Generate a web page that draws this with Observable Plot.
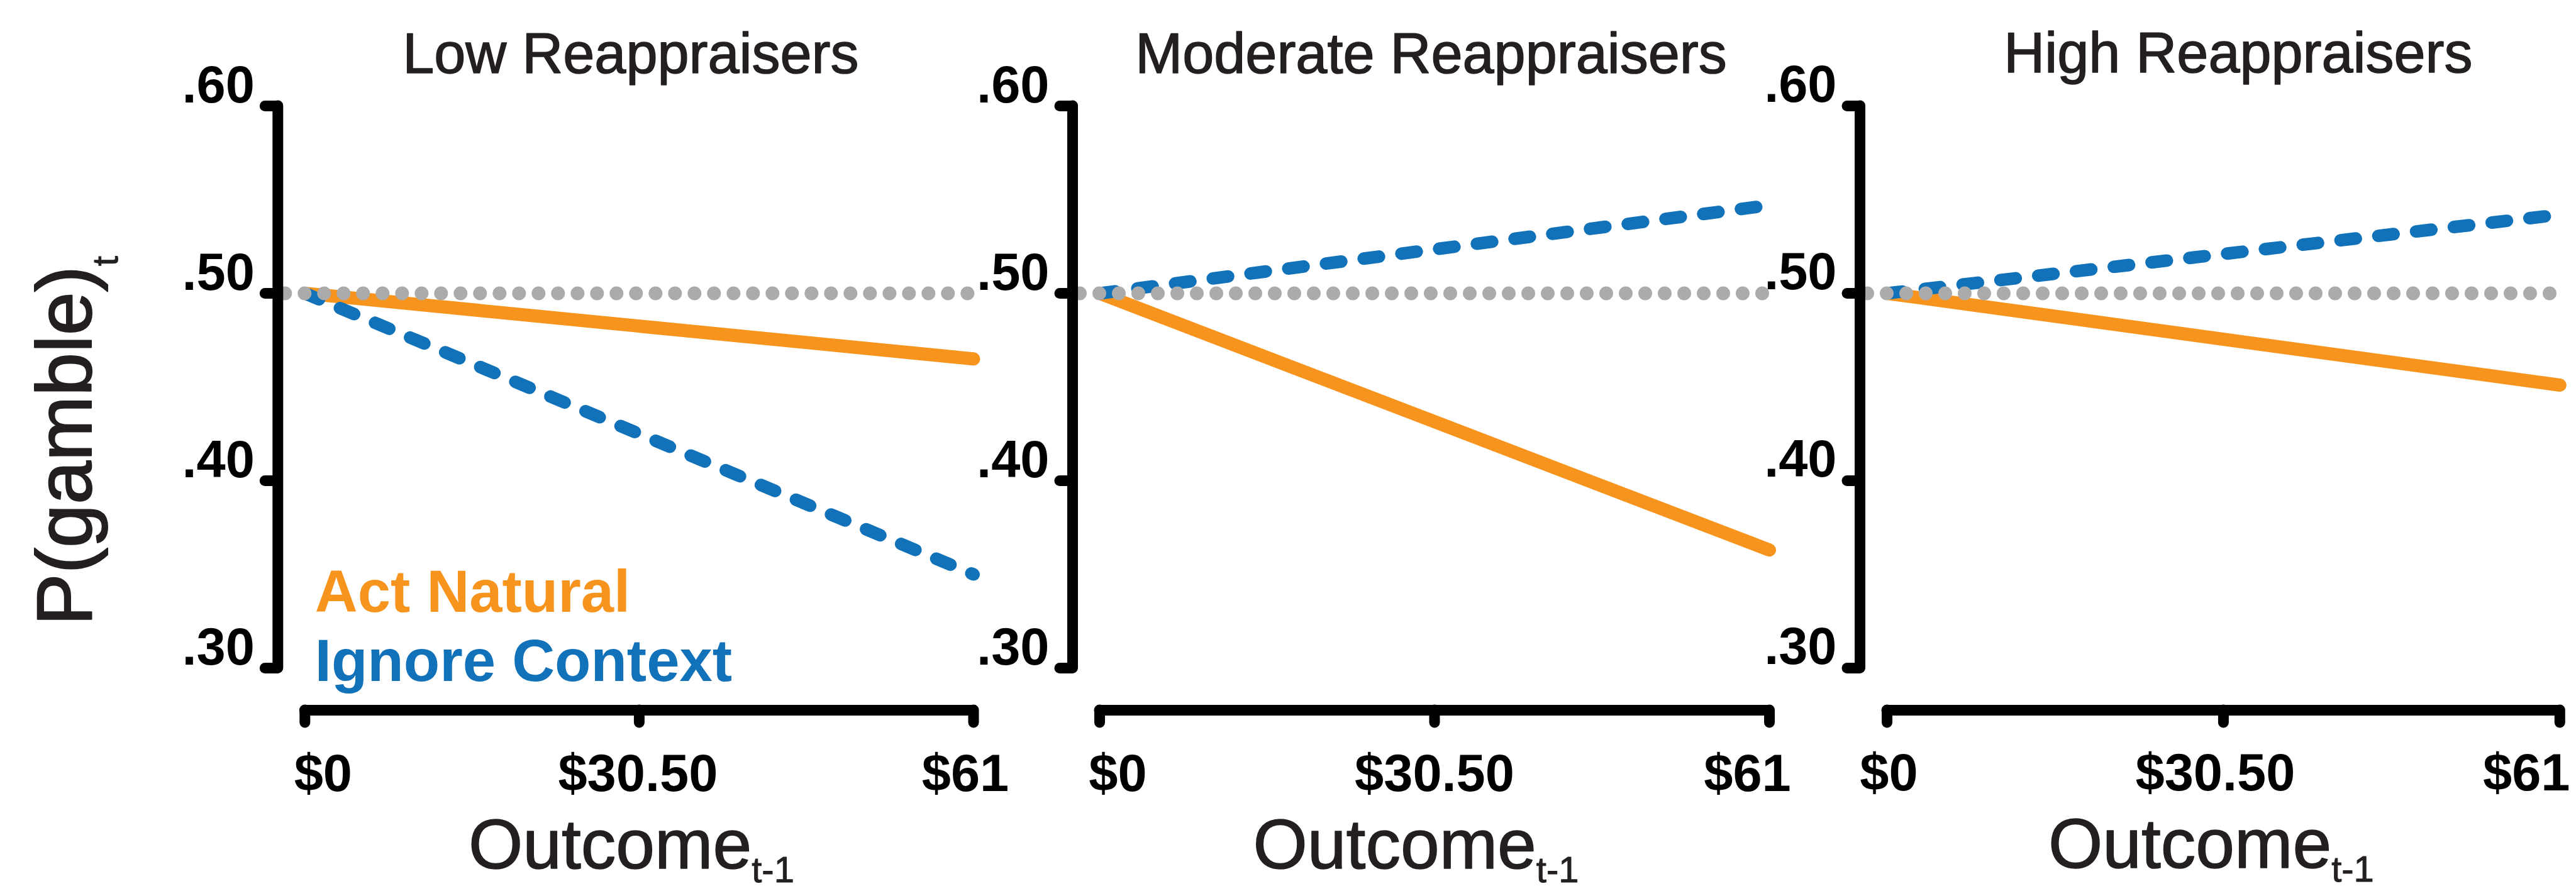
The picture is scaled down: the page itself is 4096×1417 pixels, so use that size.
<!DOCTYPE html>
<html>
<head>
<meta charset="utf-8">
<script src="https://cdn.jsdelivr.net/npm/d3@7"></script>
<script src="https://cdn.jsdelivr.net/npm/@observablehq/plot@0.6"></script>
<style>
  html, body { margin: 0; padding: 0; background: #fff; }
  #chart { position: relative; width: 4096px; height: 1417px; overflow: hidden; background: #fff; }
  #chart svg { position: absolute; top: 0; }
</style>
</head>
<body>
<div id="chart"></div>
<script>
// ---------------- data ----------------
const panelTitles = ["Low Reappraisers", "Moderate Reappraisers", "High Reappraisers"];
const conditions = ["Act Natural", "Ignore Context"];
const outcomeEnds = [0, 61];
const actNatural = [[0.500, 0.465], [0.500, 0.363], [0.500, 0.451]];
const ignoreContext = [[0.500, 0.350], [0.500, 0.547], [0.500, 0.542]];
const chanceLevel = 0.50;
const xTicks = [0, 30.5, 61];
const xTickLabels = ["$0", "$30.50", "$61"];
const yTicks = [0.30, 0.40, 0.50, 0.60];
const yTickLabels = [".30", ".40", ".50", ".60"];
const xLabel = "Outcome", xLabelSub = "t-1";
const yLabel = "P(gamble)", yLabelSub = "t";

// ---------------- style / layout ----------------
const colors = {"Act Natural": "#F7941D", "Ignore Context": "#1272B9"};
const gray = "#ABABAB", ink = "#231F20";
const FONT = "'Liberation Sans', Arial, Helvetica, sans-serif";
const H = 1417, MT = 168, MB = 288, INSET_L = 43, INSET_B = 67, MR = 26;
const layout = [
  {axis: 441.3, frameW: 1106.2, ml: 441.3, titleDx: 8, xLabelDx: 9, tickDx: [29, -2, -13]},
  {axis: 1705.0, frameW: 1108.0, ml: 170, titleDx: 16, xLabelDx: -8, tickDx: [29, 0, -35]},
  {axis: 2957.2, frameW: 1112.8, ml: 170, titleDx: 45, xLabelDx: 2, tickDx: [3, -13, -53]}
];

const chart = document.getElementById("chart");

function panel(i) {
  const L = layout[i];
  const series = {"Act Natural": actNatural[i], "Ignore Context": ignoreContext[i]};
  const rows = conditions.flatMap(c => outcomeEnds.map((o, j) => ({condition: c, outcome: o, p: series[c][j]})));
  const axisStroke = {stroke: "#000", strokeWidth: 17, strokeLinecap: "round"};
  const marks = [
    Plot.line(rows.filter(d => d.condition === conditions[0]), {
      x: "outcome", y: "p", stroke: colors[conditions[0]], strokeWidth: 21, strokeLinecap: "round"
    }),
    Plot.line(rows.filter(d => d.condition === conditions[1]), {
      x: "outcome", y: "p", stroke: colors[conditions[1]], strokeWidth: 20,
      strokeDasharray: "24.5 36", strokeLinecap: "round"
    }),
    Plot.ruleY([chanceLevel], {
      stroke: gray, strokeWidth: 22, strokeDasharray: "0 31", strokeDashoffset: 19, strokeLinecap: "round"
    }),
    // axis lines (offset from the data area)
    Plot.ruleX([xTicks[0]], {y1: yTicks[0], y2: yTicks[yTicks.length - 1], dx: -INSET_L, ...axisStroke}),
    Plot.ruleY([yTicks[0]], {x1: xTicks[0], x2: xTicks[xTicks.length - 1], dy: INSET_B, ...axisStroke}),
    // ticks
    Plot.axisY(yTicks, {anchor: "left", tickSize: 20, ...axisStroke, fill: "none", label: null}),
    Plot.axisX(xTicks, {anchor: "bottom", tickSize: 20, ...axisStroke, fill: "none", label: null}),
    // y tick labels
    Plot.axisY(yTicks, {
      anchor: "left", tickSize: 0, tickPadding: 37, lineAnchor: "bottom", dy: -6,
      tickFormat: d => yTickLabels[yTicks.indexOf(d)],
      fontSize: 83, fontWeight: "bold", fill: "#000", label: null
    }),
    // x tick labels (each nudged as in the original)
    ...xTicks.map((t, k) => Plot.axisX([t], {
      anchor: "bottom", tickSize: 0, tickPadding: 128, lineAnchor: "bottom", dx: L.tickDx[k],
      tickFormat: d => xTickLabels[xTicks.indexOf(d)],
      fontSize: 83, fontWeight: "bold", fill: "#000", label: null
    })),
    // panel title
    Plot.text([panelTitles[i]], {
      text: d => d, frameAnchor: "top", dx: L.titleDx, dy: -53, lineAnchor: "bottom",
      fontSize: 90, fill: ink, stroke: ink, strokeWidth: 1.5
    }),
    // x axis label
    Plot.text([xLabel], {
      text: d => d, frameAnchor: "bottom", dx: L.xLabelDx, dy: 251, lineAnchor: "bottom",
      fontSize: 111, fill: ink, stroke: ink, strokeWidth: 1.5
    })
  ];
  if (i === 0) {
    marks.push(
      Plot.text([yLabel], {
        text: d => d, frameAnchor: "left", rotate: -90, dx: -297, dy: 52,
        textAnchor: "middle", lineAnchor: "bottom", fontSize: 124, fill: ink, stroke: ink, strokeWidth: 2
      }),
      Plot.text([conditions[0]], {
        text: d => d, frameAnchor: "bottom-left", dx: 59, dy: -157, textAnchor: "start", lineAnchor: "bottom",
        fontSize: 94, fontWeight: "bold", fill: colors[conditions[0]]
      }),
      Plot.text([conditions[1]], {
        text: d => d, frameAnchor: "bottom-left", dx: 59, dy: -47, textAnchor: "start", lineAnchor: "bottom",
        fontSize: 94, fontWeight: "bold", fill: colors[conditions[1]]
      })
    );
  }
  const svg = Plot.plot({
    width: L.ml + L.frameW + MR,
    height: H,
    marginLeft: L.ml, marginRight: MR, marginTop: MT, marginBottom: MB,
    x: {domain: [xTicks[0], xTicks[xTicks.length - 1]], insetLeft: INSET_L},
    y: {domain: [yTicks[0], yTicks[yTicks.length - 1]], insetBottom: INSET_B},
    style: {background: "transparent", overflow: "visible", maxWidth: "none", fontFamily: FONT},
    marks
  });
  // subscripts
  const s = d3.select(svg);
  s.selectAll("text").filter(function () { return this.textContent === xLabel; })
    .append("tspan").attr("dy", 22).attr("font-size", 58).attr("stroke-width", 1).text(xLabelSub);
  s.selectAll("text").filter(function () { return this.textContent === yLabel; })
    .append("tspan").attr("dy", 42).attr("font-size", 57).attr("stroke-width", 1).text(yLabelSub);
  svg.style.left = (L.axis - L.ml) + "px";
  chart.appendChild(svg);
}

panelTitles.forEach((_, i) => panel(i));
</script>
</body>
</html>
